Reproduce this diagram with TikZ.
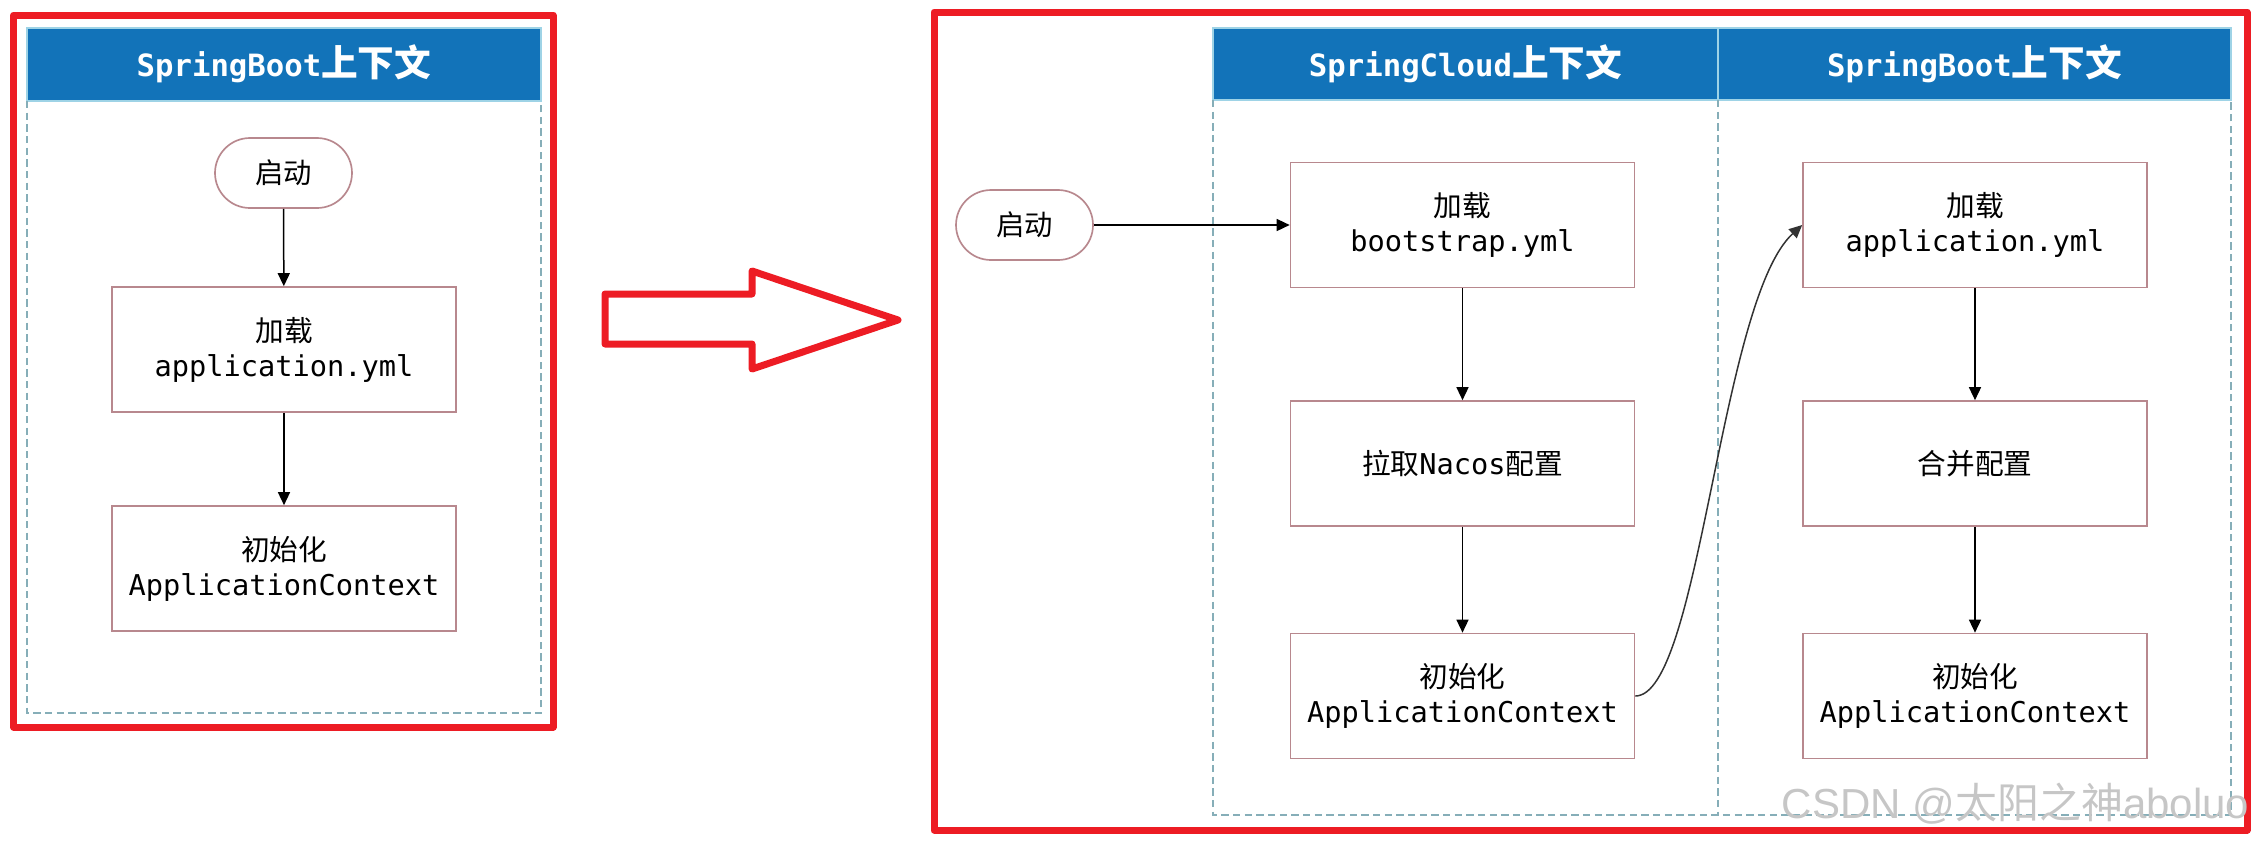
\documentclass[tikz,border=0pt]{standalone}
\usepackage{fontspec}
\setmainfont{DejaVu Sans Mono}
\newfontfamily\cjk{Noto Sans CJK SC}
\newfontfamily\wmfont{Liberation Sans}
\usetikzlibrary{arrows.meta}
\definecolor{hdrblue}{HTML}{1273B9}
\definecolor{hdrline}{HTML}{9ED3E6}
\definecolor{dashc}{HTML}{86AEB8}
\definecolor{boxc}{HTML}{B8888E}
\definecolor{redc}{HTML}{ED1C24}
\definecolor{curvec}{HTML}{333333}
\newcommand\lanetitle[2]{{\bfseries\fontsize{9.2}{11}\selectfont #1}{\cjk\bfseries\fontsize{11}{12}\selectfont #2}}
\begin{document}
\begin{tikzpicture}[x=0.3pt,y=-0.3pt,
  redline/.style={draw=redc, line width=2.1pt, line join=round},
  header/.style={fill=hdrblue, draw=hdrline, line width=0.4pt},
  lane/.style={draw=dashc, line width=0.45pt, dash pattern=on 2.2pt off 1.3pt},
  stepbox/.style={draw=boxc, line width=0.5pt, fill=white, minimum width=103.2pt, minimum height=37.5pt, align=center, inner sep=0pt, font=\fontsize{8.6}{10.5}\selectfont},
  startnode/.style={draw=boxc, line width=0.5pt, fill=white, rounded corners=10.5pt, minimum width=41.1pt, minimum height=21pt, inner sep=0pt, font=\cjk\fontsize{8.5}{10}\selectfont},
  flow/.style={draw=black, line width=0.45pt, -{Triangle[length=3.9pt,width=3.6pt]}},
  curvedflow/.style={draw=curvec, line width=0.45pt, -{Triangle[length=3.9pt,width=3.6pt]}},
  title/.style={text=white, inner sep=0pt}
]
\useasboundingbox (0,0) rectangle (2256,843);

% ---------- left panel ----------
\draw[redline] (13.5,15) rectangle (553,727);
\draw[header] (27,28) rectangle (541,101);
\draw[lane] (27,101) -- (27,713) -- (541,713) -- (541,101);
\node[title] (t1) at (284,64) {\lanetitle{SpringBoot}{上下文}};

\node[startnode] (s1) at (283.5,173) {启动};
\node[stepbox] (l1) at (284,349.5) {{\cjk 加载}\\application.yml};
\node[stepbox] (i1) at (284,568.5) {{\cjk 初始化}\\ApplicationContext};
\draw[flow] (s1) -- (l1);
\draw[flow] (l1) -- (i1);

% ---------- big red arrow ----------
\draw[redline, fill=white] (605,294) -- (752,294) -- (752,271) -- (898,320) -- (752,369) -- (752,344) -- (605,344) -- cycle;

% ---------- right panel ----------
\draw[redline] (934,12) rectangle (2247,830);
\draw[header] (1213,28) rectangle (2231,100);
\draw[draw=hdrline, line width=0.4pt] (1718,28) -- (1718,100);
\draw[lane] (1213,100) -- (1213,815) -- (2231,815) -- (2231,100);
\draw[lane] (1718,100) -- (1718,815);
\node[title] (t2) at (1465.5,64) {\lanetitle{SpringCloud}{上下文}};
\node[title] (t3) at (1974.5,64) {\lanetitle{SpringBoot}{上下文}};

\node[startnode] (s2) at (1024.5,225) {启动};
\node[stepbox] (boot) at (1462.5,225) {{\cjk 加载}\\bootstrap.yml};
\node[stepbox] (nacos) at (1462.5,463.5) {{\cjk 拉取}Nacos{\cjk 配置}};
\node[stepbox] (i2) at (1462.5,696) {{\cjk 初始化}\\ApplicationContext};

\node[stepbox] (app) at (1975,225) {{\cjk 加载}\\application.yml};
\node[stepbox] (merge) at (1975,463.5) {{\cjk 合并配置}};
\node[stepbox] (i3) at (1975,696) {{\cjk 初始化}\\ApplicationContext};

\draw[flow] (s2) -- (boot);
\draw[flow] (boot) -- (nacos);
\draw[flow] (nacos) -- (i2);
\draw[flow] (app) -- (merge);
\draw[flow] (merge) -- (i3);
\draw[curvedflow] (i2.east) .. controls (1700,696) and (1720,300) .. (app.west);

% ---------- watermark ----------
\node[anchor=base east, inner sep=0pt, text=gray!45, font=\wmfont\fontsize{12.6}{14}\selectfont] (wm) at (2250,818) {CSDN @{\cjk 太阳之神}aboluo};
\end{tikzpicture}
\end{document}
